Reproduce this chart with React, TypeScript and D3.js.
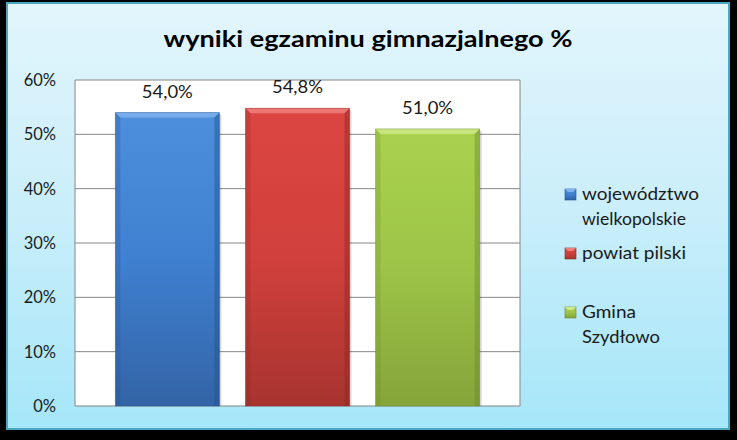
import React from "react";
import * as d3 from "d3";

const categories = ["województwo wielkopolskie", "powiat pilski", "Gmina Szydłowo"];
const values = [54.0, 54.8, 51.0];
const valueLabels = ["54,0%", "54,8%", "51,0%"];
const yTicks = [0, 10, 20, 30, 40, 50, 60];
const legendLines = [["województwo", "wielkopolskie"], ["powiat pilski"], ["Gmina", "Szydłowo"]];
const title = "wyniki egzaminu gimnazjalnego %";

const colors = [
  { top: "#4d8fdc", mid: "#3f80d0", bot: "#3264a6", light: "#7fb2ee", dark: "#24508c" },
  { top: "#dc4642", mid: "#d1403c", bot: "#a8342f", light: "#ef7f7b", dark: "#8a2824" },
  { top: "#aad24e", mid: "#9dc447", bot: "#85a43a", light: "#cbe88a", dark: "#6c8a2c" },
];

const FONT = "Lato, 'Open Sans', sans-serif";

export default function App() {
  const W = 737, H = 440;
  const plot = { x0: 75, x1: 520, y0: 80, y1: 406 };
  const x = d3.scaleBand<string>().domain(categories).range([plot.x0, plot.x1]).paddingInner(0.2).paddingOuter(0.31);
  const y = d3.scaleLinear().domain([0, 60]).range([plot.y1, plot.y0]);
  const legendY = [[200, 225], [259], [318, 343]];
  const legendW = [[117, 104], [104], [54, 78]];

  return (
    <div style={{ position: "fixed", left: 0, top: 0 }}>
      <svg width={W} height={H} style={{ display: "block", background: "#000" }}>
        <defs>
          <linearGradient id="bg" x1="0" y1="0" x2="0" y2="1">
            <stop offset="0" stopColor="#e2f5fc" />
            <stop offset="0.5" stopColor="#c9eefa" />
            <stop offset="1" stopColor="#a5e6f9" />
          </linearGradient>
          {colors.map((c, i) => (
            <linearGradient key={i} id={`bar${i}`} x1="0" y1="0" x2="0" y2="1">
              <stop offset="0" stopColor={c.top} />
              <stop offset="0.5" stopColor={c.mid} />
              <stop offset="1" stopColor={c.bot} />
            </linearGradient>
          ))}
        </defs>
        <rect x={7} y={3} width={722} height={426} fill="url(#bg)" stroke="#4aa7c2" strokeWidth={2} />
        <text x={368} y={47} textAnchor="middle" fontFamily={FONT} fontWeight="bold" fontSize={23} fill="#000"
          textLength={409} lengthAdjust="spacingAndGlyphs">{title}</text>

        <rect x={plot.x0} y={plot.y0} width={plot.x1 - plot.x0} height={plot.y1 - plot.y0} fill="#fff" />
        {yTicks.map((t) => (
          <line key={t} x1={plot.x0} x2={plot.x1} y1={y(t)} y2={y(t)} stroke="#868686" strokeWidth={1} />
        ))}
        <line x1={plot.x0} x2={plot.x0} y1={plot.y0} y2={plot.y1} stroke="#868686" />
        <line x1={plot.x1} x2={plot.x1} y1={plot.y0} y2={plot.y1} stroke="#868686" />
        {yTicks.map((t) => (
          <text key={t} x={56} y={y(t) + 6} textAnchor="end" fontFamily={FONT} fontSize={16.5} fill="#1a1a1a">{`${t}%`}</text>
        ))}

        {categories.map((cat, i) => {
          const bx = x(cat)!;
          const bw = x.bandwidth();
          const by = y(values[i]);
          const bb = y(0);
          const c = colors[i];
          const b = 5;
          return (
            <g key={cat}>
              <rect x={bx + 2} y={by + 2} width={bw} height={bb - by - 2} fill="rgba(0,0,0,0.15)" />
              <rect x={bx} y={by} width={bw} height={bb - by} fill={`url(#bar${i})`} />
              <polygon points={`${bx},${by} ${bx + bw},${by} ${bx + bw - b},${by + b} ${bx + b},${by + b}`} fill={c.light} opacity={0.85} />
              <polygon points={`${bx},${by} ${bx + b},${by + b} ${bx + b},${bb} ${bx},${bb}`} fill={c.dark} opacity={0.25} />
              <polygon points={`${bx + bw},${by} ${bx + bw - b},${by + b} ${bx + bw - b},${bb} ${bx + bw},${bb}`} fill={c.dark} opacity={0.45} />
              <rect x={bx} y={by} width={bw} height={bb - by} fill="none" stroke={c.dark} strokeOpacity={0.5} strokeWidth={0.8} />
              <text x={bx + bw / 2} y={by - 15} textAnchor="middle" fontFamily={FONT} fontSize={16.5} fill="#1a1a1a"
                textLength={51} lengthAdjust="spacingAndGlyphs">{valueLabels[i]}</text>
            </g>
          );
        })}

        {legendLines.map((lines, i) => {
          const c = colors[i];
          const sy = legendY[i][0] - 11;
          return (
            <g key={i}>
              <rect x={565} y={sy} width={11} height={11} fill={`url(#bar${i})`} stroke={c.dark} strokeWidth={0.6} />
              <polygon points={`565,${sy} 576,${sy} 573,${sy + 3} 568,${sy + 3}`} fill={c.light} />
              {lines.map((ln, j) => (
                <text key={j} x={582} y={legendY[i][j]} fontFamily={FONT} fontSize={16.5} fill="#1a1a1a"
                  textLength={legendW[i][j]} lengthAdjust="spacingAndGlyphs">{ln}</text>
              ))}
            </g>
          );
        })}
      </svg>
    </div>
  );
}
